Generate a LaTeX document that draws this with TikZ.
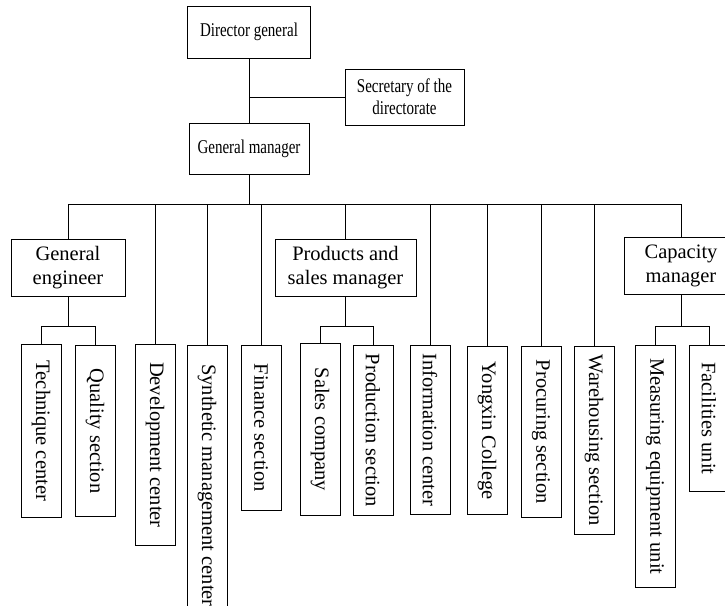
\documentclass[tikz,border=0pt]{standalone}
\usepackage{fontspec}
\setmainfont{Liberation Serif}
\newfontfamily\narrowserif[FakeStretch=0.77]{Liberation Serif}
\tikzset{
  topbox/.style={draw, line width=0.8pt, align=center, inner sep=2pt, minimum width=#1, font=\narrowserif\fontsize{19.5}{22}\selectfont},
  box/.style={draw, line width=0.8pt, align=center, inner sep=2pt, minimum width=#1, font=\fontsize{20.5}{24}\selectfont},
  leaf/.style={draw, line width=0.8pt, rotate=-90, anchor=west, inner sep=3pt, minimum height=40pt, minimum width=#1, font=\fontsize{20.5}{24}\selectfont},
  link/.style={line width=0.8pt}
}
\begin{document}
\begin{tikzpicture}[x=1pt, y=-1pt]
\useasboundingbox (0,0) rectangle (725,605);
\clip (0,0) rectangle (725,605);
%top
\node[topbox=123pt, minimum height=52pt] (dg) at (249,32) {Director general};
\node[topbox=119pt, minimum height=56pt] (sec) at (404.5,97) {Secretary of the\\directorate};
\node[topbox=120pt, minimum height=51pt] (gm) at (249,148.5) {General manager};
%managers
\node[box=114pt, minimum height=57pt] (ge) at (68,267.5) {General\\engineer};
\node[box=141pt, minimum height=57pt] (psm) at (345.5,267.5) {Products and\\sales manager};
\node[box=114pt, minimum height=57pt] (cap) at (681,266) {Capacity\\manager};
%units
\node[leaf=173pt] (tech) at (41,344) {Technique center};
\node[leaf=171pt] (qual) at (95,345) {Quality section};
\node[leaf=201pt] (dev) at (155,344) {Development center};
\node[leaf=280pt] (syn) at (207,345) {Synthetic management center};
\node[leaf=165pt] (fin) at (261,345) {Finance section};
\node[leaf=172pt] (sales) at (320,343) {Sales company};
\node[leaf=170pt] (prod) at (373,345) {Production section};
\node[leaf=169pt] (info) at (430,345) {Information center};
\node[leaf=168pt] (yx) at (487,346) {Yongxin College};
\node[leaf=171pt] (proc) at (541,346) {Procuring section};
\node[leaf=188pt] (ware) at (594,346) {Warehousing section};
\node[leaf=242pt] (meas) at (655,345) {Measuring equipment unit};
\node[leaf=146pt] (fac) at (709,345) {Facilities unit};
%bus lines
\coordinate (bus) at (0,204);
\coordinate (sub) at (0,326);
\draw[link] (dg.south) -- (gm.north);
\draw[link] (sec.west) -- (sec.west -| dg.south);
\draw[link] (gm.south) -- (gm.south |- bus);
\draw[link] (ge.north) |- (bus -| cap.north) -- (cap.north);
\draw[link] (psm.north) -- (psm.north |- bus);
\foreach \n in {dev, syn, fin, info, yx, proc, ware} \draw[link] (\n.west) -- (\n.west |- bus);
%sub lines
\foreach \m/\a/\b in {ge/tech/qual, psm/sales/prod, cap/meas/fac} {
  \draw[link] (\m.south) -- (\m.south |- sub);
  \draw[link] (\a.west) |- (sub -| \b.west) -- (\b.west);
}
\end{tikzpicture}
\end{document}
